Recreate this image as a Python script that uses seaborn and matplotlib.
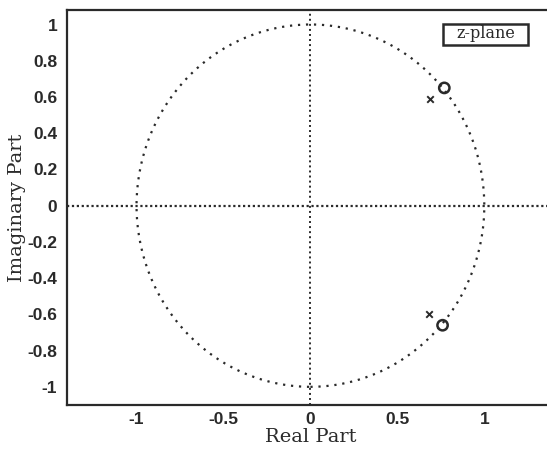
import numpy as np
import pandas as pd
import seaborn as sns
import matplotlib.pyplot as plt
from matplotlib.patches import Rectangle

zero_re = [0.77, 0.76]
zero_im = [0.65, -0.66]
pole_re = [0.69, 0.68]
pole_im = [0.59, -0.60]

x_ticks = [-1, -0.5, 0, 0.5, 1]
x_labels = ["-1", "-0.5", "0", "0.5", "1"]
y_ticks = [1, 0.8, 0.6, 0.4, 0.2, 0, -0.2, -0.4, -0.6, -0.8, -1]
y_labels = ["1", "0.8", "0.6", "0.4", "0.2", "0", "-0.2", "-0.4", "-0.6", "-0.8", "-1"]

zeros = pd.DataFrame({"re": zero_re, "im": zero_im})
poles = pd.DataFrame({"re": pole_re, "im": pole_im})

sns.set_style("white")
ink = "#2a2a2a"

fig = plt.figure(figsize=(5.47, 4.55), dpi=100)
ax = fig.add_axes([0.1225, 0.11, 0.89, 0.868])

ax.add_patch(plt.Circle((0, 0), 1, fill=False, ls=(0, (1, 2.6)), lw=1.6, color=ink))
ax.axhline(0, ls=(0, (1, 1.2)), lw=1.6, color=ink)
ax.axvline(0, ls=(0, (1, 1.6)), lw=1.4, color=ink)

sns.scatterplot(x="re", y="im", data=zeros, ax=ax, marker="o", s=55,
                facecolor="none", edgecolor=ink, linewidth=1.8)
sns.scatterplot(x="re", y="im", data=poles, ax=ax, marker="x", s=22,
                color=ink, linewidth=1.4)

ax.set_xlim(-1.4, 1.4)
ax.set_ylim(-1.1, 1.08)
ax.set_xticks(x_ticks)
ax.set_xticklabels(x_labels, fontsize=12.5, fontweight="bold", color=ink, family="Liberation Sans")
ax.set_yticks(y_ticks)
ax.set_yticklabels(y_labels, fontsize=12.5, fontweight="bold", color=ink, family="Liberation Sans")
ax.tick_params(direction="in", length=3, color=ink, width=1)
ax.tick_params(axis="y", pad=7)
ax.tick_params(axis="x", pad=5)
ax.set_xlabel("Real Part", family="DejaVu Serif", fontsize=14, color=ink, labelpad=1)
ax.set_ylabel("Imaginary Part", family="DejaVu Serif", fontsize=14, color=ink, labelpad=1)

for side in ["left", "bottom", "top"]:
    ax.spines[side].set_visible(True)
    ax.spines[side].set_color(ink)
    ax.spines[side].set_linewidth(1.6)
ax.spines["right"].set_visible(False)

ax.add_patch(Rectangle((0.772, 0.911), 0.175, 0.054, transform=ax.transAxes,
                       fill=True, fc="white", ec=ink, lw=1.8, zorder=5))
ax.text(0.8595, 0.94, "z-plane", transform=ax.transAxes, ha="center", va="center",
        family="DejaVu Serif", fontsize=11.5, color=ink, zorder=6)

fig.savefig("out.png", dpi=100)
